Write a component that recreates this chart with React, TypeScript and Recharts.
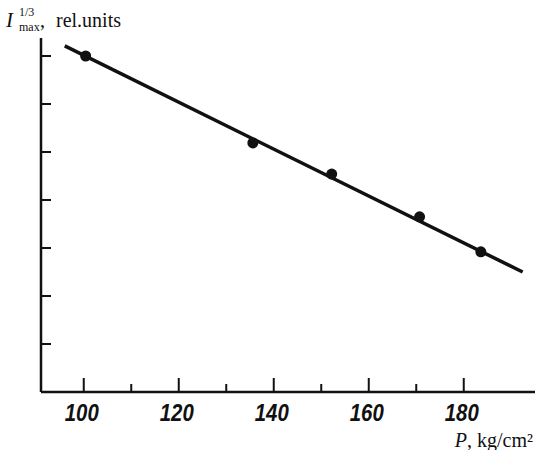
import { ComposedChart, Line, Scatter, XAxis, YAxis } from "recharts";

// measured points
const pressure = [100.4, 135.6, 152.2, 170.7, 183.6];
const intensity = [7.0, 5.19, 4.54, 3.65, 2.92];

// straight fit through the points
const fitP = [96, 192.4];
const fitI = [7.21, 2.5];

const xTicks = [100, 110, 120, 130, 140, 150, 160, 170, 180];
const yTicks = [1, 2, 3, 4, 5, 6, 7];

const points = pressure.map((p, i) => ({ p, v: intensity[i] }));
const fit = fitP.map((p, i) => ({ p, v: fitI[i] }));

const ink = "#111";
const AXIS_Y = 392;

// eslint-disable-next-line @typescript-eslint/no-explicit-any
function XTick({ x, payload }: any) {
  const major = payload.value % 20 === 0;
  return (
    <g>
      <line x1={x} y1={AXIS_Y} x2={x} y2={AXIS_Y - (major ? 14 : 8)} stroke={ink} strokeWidth={2} />
      {major && (
        <text
          x={x - 2}
          y={AXIS_Y + 29}
          textAnchor="middle"
          fontFamily="'Liberation Sans', Arial, sans-serif"
          fontWeight="bold"
          fontStyle="italic"
          fontSize={24}
          textLength={34}
          lengthAdjust="spacingAndGlyphs"
          fill={ink}
        >
          {payload.value}
        </text>
      )}
    </g>
  );
}

// eslint-disable-next-line @typescript-eslint/no-explicit-any
function YTick({ y }: any) {
  return <line x1={41} y1={y} x2={51} y2={y} stroke={ink} strokeWidth={2} />;
}

export default function App() {
  const serif = "'Liberation Serif', 'Times New Roman', serif";
  return (
    <div style={{ position: "absolute", left: 0, top: 0, width: 535, height: 450, background: "#fff" }}>
      <ComposedChart width={535} height={450} margin={{ top: 38, right: 0, bottom: 28, left: 0 }}>
        <XAxis
          dataKey="p"
          type="number"
          domain={[91, 195]}
          ticks={xTicks}
          allowDataOverflow
          height={30}
          tickSize={0}
          tickMargin={0}
          tickLine={false}
          tick={<XTick />}
          axisLine={{ stroke: ink, strokeWidth: 2.5 }}
        />
        <YAxis
          type="number"
          domain={[0, 7.375]}
          ticks={yTicks}
          allowDataOverflow
          width={41}
          tickSize={0}
          tickMargin={0}
          tickLine={false}
          tick={<YTick />}
          axisLine={{ stroke: ink, strokeWidth: 2.5 }}
        />
        <Line
          data={fit}
          dataKey="v"
          stroke={ink}
          strokeWidth={3.5}
          dot={false}
          activeDot={false}
          isAnimationActive={false}
        />
        <Scatter data={points} dataKey="v" fill={ink} shape={(props: any) => <circle cx={props.cx} cy={props.cy} r={5.5} fill={ink} />} isAnimationActive={false} />
      </ComposedChart>
      <svg width={535} height={450} style={{ position: "absolute", left: 0, top: 0, pointerEvents: "none" }}>
        <text x={6} y={27} fontFamily={serif} fontStyle="italic" fontSize={21} fill={ink}>I</text>
        <text x={19} y={16} fontFamily={serif} fontSize={12} fill={ink}>1/3</text>
        <text x={19} y={31} fontFamily={serif} fontSize={12} fill={ink}>max</text>
        <text x={40} y={27} fontFamily={serif} fontSize={20} fill={ink}>,</text>
        <text x={56} y={27} fontFamily={serif} fontSize={20} fill={ink}>rel.units</text>
        <text x={533} y={447} textAnchor="end" fontFamily={serif} fontSize={20} fill={ink}>
          <tspan fontStyle="italic">P</tspan>, kg/cm²
        </text>
      </svg>
    </div>
  );
}
